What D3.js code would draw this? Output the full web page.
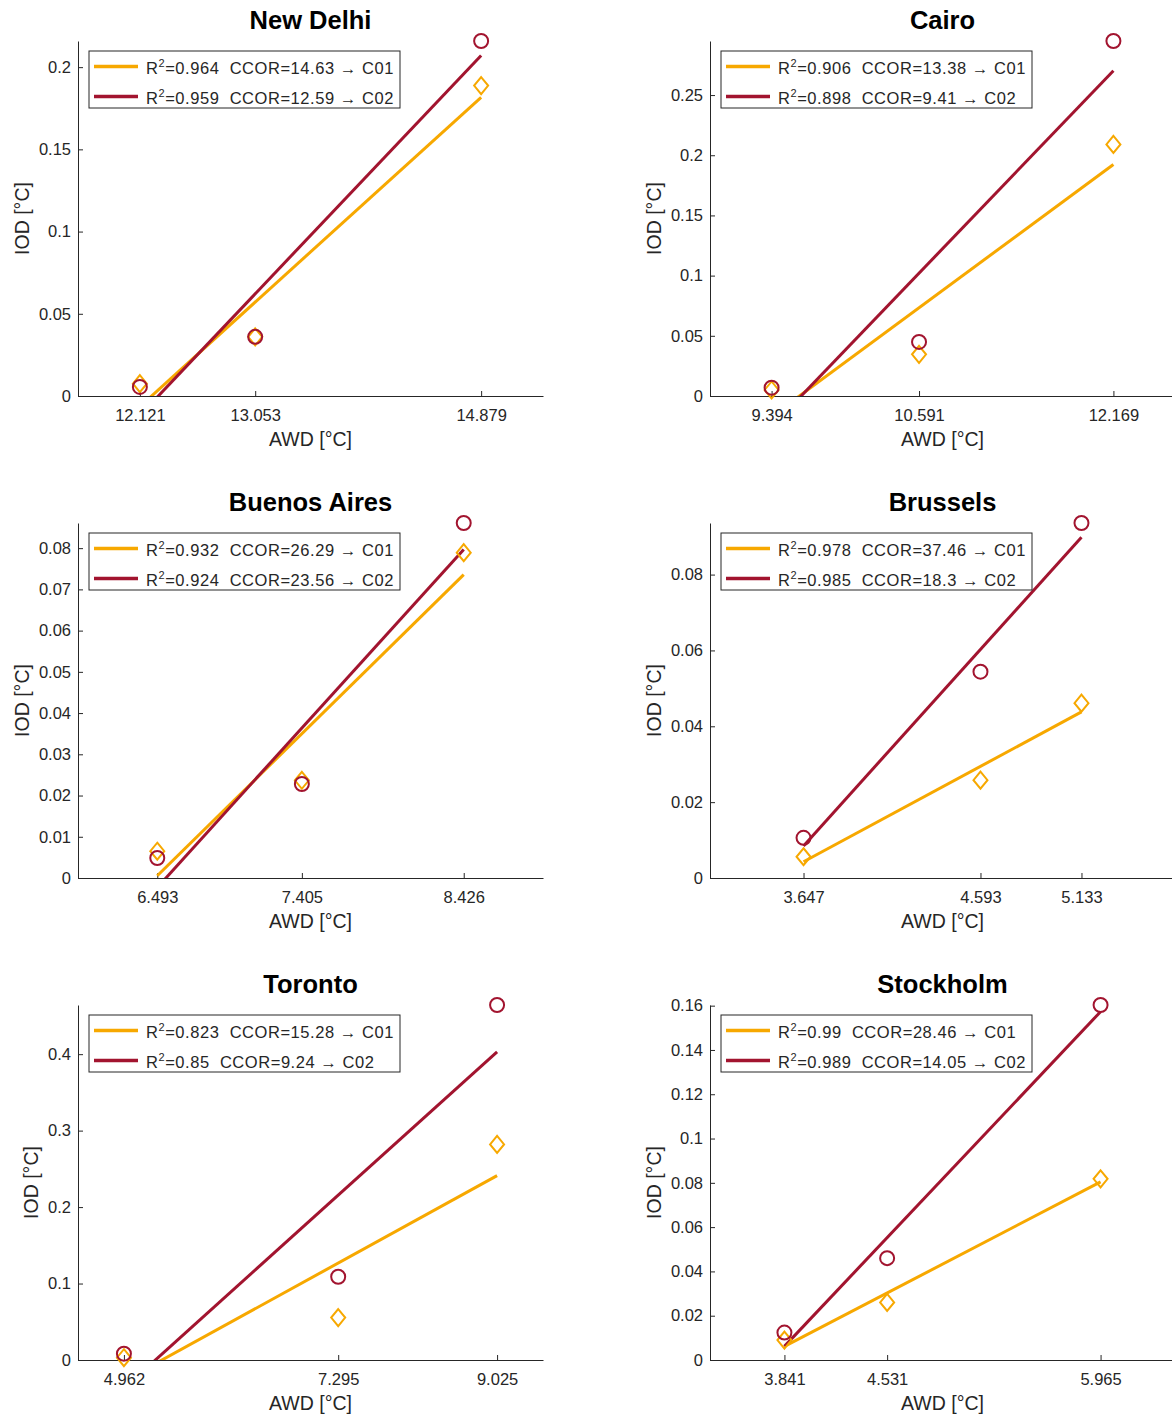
<!DOCTYPE html>
<html>
<head>
<meta charset="utf-8">
<script src="https://cdn.jsdelivr.net/npm/d3@7"></script>
<style>
body { margin: 0; background: #fff; }
text { font-family: "Liberation Sans", Arial, sans-serif; }
</style>
</head>
<body>
<div class="chart"></div>
<script>
var cities = ["New Delhi", "Cairo", "Buenos Aires", "Brussels", "Toronto", "Stockholm"];

// AWD values (x) per city, also the x tick values
var awd = [
  [12.121, 13.053, 14.879],
  [9.394, 10.591, 12.169],
  [6.493, 7.405, 8.426],
  [3.647, 4.593, 5.133],
  [4.962, 7.295, 9.025],
  [3.841, 4.531, 5.965]
];

// IOD values
var iodC01 = [
  [0.0075, 0.036, 0.1888],
  [0.005, 0.0346, 0.209],
  [0.0065, 0.0237, 0.0789],
  [0.0056, 0.0258, 0.0461],
  [0.003, 0.0555, 0.282],
  [0.009, 0.026, 0.0818]
];
var iodC02 = [
  [0.0055, 0.036, 0.2159],
  [0.0069, 0.0449, 0.2949],
  [0.00485, 0.0228, 0.0861],
  [0.0106, 0.0544, 0.0936],
  [0.0083, 0.1089, 0.4643],
  [0.0124, 0.046, 0.1603]
];

var r2C01 = ["0.964", "0.906", "0.932", "0.978", "0.823", "0.99"];
var ccorC01 = ["14.63", "13.38", "26.29", "37.46", "15.28", "28.46"];
var r2C02 = ["0.959", "0.898", "0.924", "0.985", "0.85", "0.989"];
var ccorC02 = ["12.59", "9.41", "23.56", "18.3", "9.24", "14.05"];

var yTicks = [
  [0, 0.05, 0.1, 0.15, 0.2],
  [0, 0.05, 0.1, 0.15, 0.2, 0.25],
  [0, 0.01, 0.02, 0.03, 0.04, 0.05, 0.06, 0.07, 0.08],
  [0, 0.02, 0.04, 0.06, 0.08],
  [0, 0.1, 0.2, 0.3, 0.4],
  [0, 0.02, 0.04, 0.06, 0.08, 0.1, 0.12, 0.14, 0.16]
];

var width = 1172,
    height = 1417,
    colLeft = [78, 710],
    rowTop = [41, 523, 1005],
    plotW = 465,
    plotH = 355;

var orange = "#f7a800",
    red = "#a2142f",
    axisColor = "#262626";

var svg = d3.select(".chart").append("svg")
    .attr("width", width)
    .attr("height", height);

// least squares line through the points
function linfit(xs, ys) {
  var mx = d3.mean(xs), my = d3.mean(ys);
  var sxy = d3.sum(xs, function(d, i){ return (d - mx) * (ys[i] - my); });
  var sxx = d3.sum(xs, function(d){ return (d - mx) * (d - mx); });
  var b = sxy / sxx;
  return function(x){ return my + b * (x - mx); };
}

cities.forEach(function(city, i) {
  var left = colLeft[i % 2],
      top = rowTop[Math.floor(i / 2)],
      xs = awd[i];

  var x = d3.scaleLinear()
      .domain([xs[0] - 0.5, xs[xs.length - 1] + 0.5])
      .range([0, plotW]);
  var y = d3.scaleLinear()
      .domain([0, d3.max(iodC01[i].concat(iodC02[i]))])
      .range([plotH, 0]);

  var g = svg.append("g")
      .attr("transform", "translate(" + left + "," + top + ")");

  g.append("clipPath")
      .attr("id", "clip" + i)
    .append("rect")
      .attr("width", plotW)
      .attr("height", plotH);

  // axes
  var xAxis = g.append("g")
      .attr("transform", "translate(0," + plotH + ")")
      .call(d3.axisBottom(x).tickValues(xs).tickSize(-5).tickSizeOuter(0).tickPadding(13)
        .tickFormat(d3.format(".3f")));
  var yAxis = g.append("g")
      .call(d3.axisLeft(y).tickValues(yTicks[i]).tickSize(-5).tickSizeOuter(0).tickPadding(7)
        .tickFormat(d3.format("~g")));

  [xAxis, yAxis].forEach(function(a) {
    a.attr("font-size", 16.5).attr("font-family", "'Liberation Sans', Arial, sans-serif");
    a.select(".domain").attr("stroke", axisColor);
    a.selectAll(".tick line").attr("stroke", axisColor);
    a.selectAll(".tick text").attr("fill", axisColor);
  });

  // title
  g.append("text")
      .attr("x", plotW / 2)
      .attr("y", -12)
      .attr("text-anchor", "middle")
      .attr("font-size", 25.5)
      .attr("font-weight", "bold")
      .attr("fill", "#000")
      .text(city);

  g.append("text")
      .attr("x", plotW / 2)
      .attr("y", plotH + 50)
      .attr("text-anchor", "middle")
      .attr("font-size", 19.5)
      .attr("fill", axisColor)
      .text("AWD [\u00b0C]");

  var tb = yAxis.node().getBBox();
  g.append("text")
      .attr("transform", "translate(" + (tb.x - 10) + "," + (plotH / 2) + ") rotate(-90)")
      .attr("text-anchor", "middle")
      .attr("font-size", 19.5)
      .attr("fill", axisColor)
      .text("IOD [\u00b0C]");

  // fit lines, clipped to the axes
  var series = [
    {ys: iodC01[i], color: orange},
    {ys: iodC02[i], color: red}
  ];
  var plot = g.append("g").attr("clip-path", "url(#clip" + i + ")");
  series.forEach(function(s) {
    var f = linfit(xs, s.ys);
    var ends = [xs[0], xs[xs.length - 1]];
    plot.append("path")
        .datum(ends)
        .attr("fill", "none")
        .attr("stroke", s.color)
        .attr("stroke-width", 3)
        .attr("d", d3.line()
          .x(function(d){ return x(d); })
          .y(function(d){ return y(f(d)); }));
  });

  // markers
  g.selectAll(".dia")
      .data(xs.map(function(d, j){ return [d, iodC01[i][j]]; }))
    .enter().append("path")
      .attr("class", "dia")
      .attr("fill", "none")
      .attr("stroke", orange)
      .attr("stroke-width", 2)
      .attr("d", function(d) {
        var cx = x(d[0]), cy = y(d[1]);
        return "M" + cx + "," + (cy - 8.5) + "L" + (cx + 7) + "," + cy +
          "L" + cx + "," + (cy + 8.5) + "L" + (cx - 7) + "," + cy + "Z";
      });
  g.selectAll(".circ")
      .data(xs.map(function(d, j){ return [d, iodC02[i][j]]; }))
    .enter().append("circle")
      .attr("class", "circ")
      .attr("fill", "none")
      .attr("stroke", red)
      .attr("stroke-width", 2)
      .attr("r", 7)
      .attr("cx", function(d){ return x(d[0]); })
      .attr("cy", function(d){ return y(d[1]); });

  // legend
  var lg = g.append("g").attr("transform", "translate(11,10)");
  lg.append("rect")
      .attr("width", 311)
      .attr("height", 57)
      .attr("fill", "#fff")
      .attr("stroke", axisColor)
      .attr("stroke-width", 1);
  var entries = [
    {r2: r2C01[i], ccor: ccorC01[i], tag: "C01", color: orange},
    {r2: r2C02[i], ccor: ccorC02[i], tag: "C02", color: red}
  ];
  entries.forEach(function(e, k) {
    var cy = 15.5 + k * 30;
    lg.append("line")
        .attr("x1", 5).attr("x2", 49)
        .attr("y1", cy).attr("y2", cy)
        .attr("stroke", e.color)
        .attr("stroke-width", 3.3);
    var t = lg.append("text")
        .attr("x", 57)
        .attr("y", cy + 7)
        .attr("font-size", 16.5)
        .attr("letter-spacing", 0.55)
        .attr("fill", axisColor)
        .style("white-space", "pre");
    t.append("tspan").text("R");
    t.append("tspan").attr("dy", -7).attr("font-size", 11).text("2");
    t.append("tspan").attr("dy", 7).text("=" + e.r2 + "  CCOR=" + e.ccor + " \u2192 " + e.tag);
  });
});
</script>
</body>
</html>
